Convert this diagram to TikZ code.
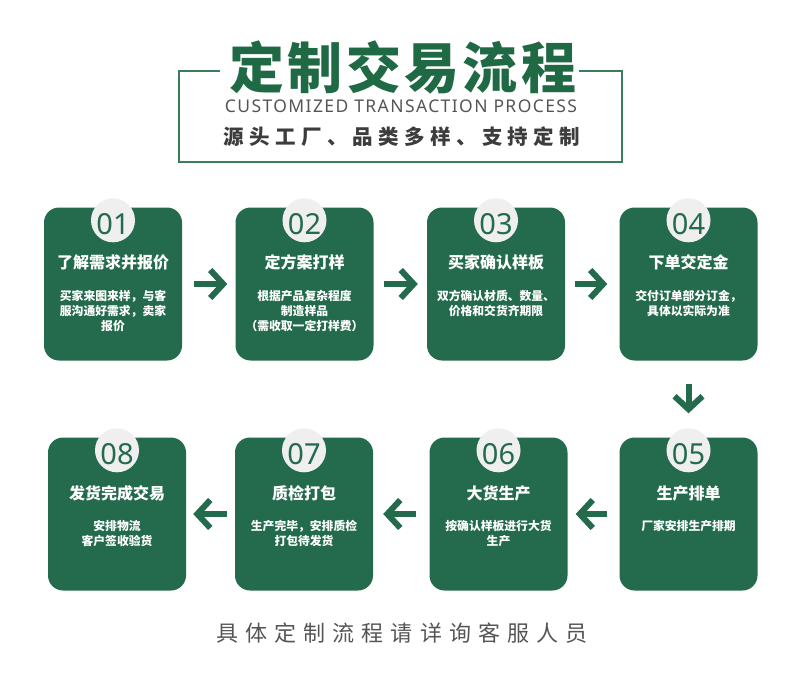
\documentclass[tikz,border=0pt]{standalone}
\usepackage{fontspec}
\usetikzlibrary{arrows.meta}
\newfontfamily\cjk{Noto Sans CJK SC}
\newfontfamily\latinf{Noto Sans}
\definecolor{boxgreen}{HTML}{246B4D}
\definecolor{titlegreen}{HTML}{1F6A45}
\definecolor{framegreen}{HTML}{3A7D5C}
\definecolor{circlegrey}{HTML}{EFEFEF}
\definecolor{textgrey}{HTML}{555555}
\definecolor{subgrey}{HTML}{3C3C3C}
\begin{document}
\begin{tikzpicture}[x=1pt,y=-1pt,
 stepbox/.style={fill=boxgreen, rounded corners=15pt, minimum width=138pt, minimum height=153pt, inner sep=0pt},
 numcircle/.style={circle, fill=circlegrey, minimum size=44pt, inner sep=0pt},
 numtext/.style={font=\latinf\fontsize{29}{29}\selectfont, text=boxgreen, inner sep=0pt},
 steptitle/.style={font=\cjk\bfseries\fontsize{16}{18}\selectfont, text=white, inner sep=0pt},
 stepdesc/.style={font=\cjk\bfseries\fontsize{11.8}{15}\selectfont, text=white, align=center, anchor=north, inner sep=0pt},
 flowarrow/.style={draw=boxgreen, line width=6pt, -{Straight Barb[length=13pt,width=28pt]}}
]
\useasboundingbox (0,0) rectangle (800,685);

% header
\draw[framegreen, line width=2pt] (220,71) -- (179,71) -- (179,162) -- (622,162) -- (622,71) -- (579,71);
\node[font=\cjk\bfseries\fontsize{55}{55}\selectfont\addfontfeatures{LetterSpace=6}, text=titlegreen] (title) at (403,67) {定制交易流程};
\node[font=\latinf\fontsize{17.5}{18}\selectfont\addfontfeatures{LetterSpace=8}, text=textgrey] (entitle) at (401,106) {CUSTOMIZED TRANSACTION PROCESS};
\node[font=\cjk\bfseries\fontsize{20.5}{21}\selectfont\addfontfeatures{LetterSpace=26}, text=subgrey] (slogan) at (402,137) {源头工厂、品类多样、支持定制};

% boxes row 1
\node[stepbox] (b1) at (113,284) {};
\node[stepbox] (b2) at (304.5,284) {};
\node[stepbox] (b3) at (496,284) {};
\node[stepbox] (b4) at (688.5,284) {};
% boxes row 2
\node[stepbox] (b8) at (117,514) {};
\node[stepbox] (b7) at (304,514) {};
\node[stepbox] (b6) at (498.5,514) {};
\node[stepbox] (b5) at (688.5,514) {};

% circles and numbers
\foreach \b/\n in {b1/01,b2/02,b3/03,b4/04,b5/05,b6/06,b7/07,b8/08}{
  \node[numcircle] (c\n) at ([yshift=-13pt]\b.north) {};
  \node[numtext] (t\n) at ([yshift=-17pt]\b.north) {\n};
}

% titles
\node[steptitle] (h1) at ([yshift=-55pt]b1.north) {了解需求并报价};
\node[steptitle] (h2) at ([yshift=-55pt]b2.north) {定方案打样};
\node[steptitle] (h3) at ([yshift=-55pt]b3.north) {买家确认样板};
\node[steptitle] (h4) at ([yshift=-55pt]b4.north) {下单交定金};
\node[steptitle] (h5) at ([yshift=-56pt]b5.north) {生产排单};
\node[steptitle] (h6) at ([yshift=-56pt]b6.north) {大货生产};
\node[steptitle] (h7) at ([yshift=-56pt]b7.north) {质检打包};
\node[steptitle] (h8) at ([yshift=-56pt]b8.north) {发货完成交易};

% descriptions
\node[stepdesc] (d1) at ([yshift=-83pt]b1.north) {买家来图来样，与客\\服沟通好需求，卖家\\报价};
\node[stepdesc] (d2) at ([yshift=-83pt]b2.north) {根据产品复杂程度\\制造样品\\（需收取一定打样费）};
\node[stepdesc] (d3) at ([yshift=-83pt]b3.north) {双方确认材质、数量、\\价格和交货齐期限};
\node[stepdesc] (d4) at ([yshift=-83pt]b4.north) {交付订单部分订金，\\具体以实际为准};
\node[stepdesc] (d5) at ([yshift=-83pt]b5.north) {厂家安排生产排期};
\node[stepdesc] (d6) at ([yshift=-83pt]b6.north) {按确认样板进行大货\\生产};
\node[stepdesc] (d7) at ([yshift=-83pt]b7.north) {生产完毕，安排质检\\打包待发货};
\node[stepdesc] (d8) at ([yshift=-83pt]b8.north) {安排物流\\客户签收验货};

% arrows
\draw[flowarrow, shorten <=12pt, shorten >=8pt] (b1.east) -- (b2.west);
\draw[flowarrow, shorten <=10pt, shorten >=9pt] (b2.east) -- (b3.west);
\draw[flowarrow, shorten <=10pt, shorten >=12pt] (b3.east) -- (b4.west);
\draw[flowarrow, shorten <=23pt, shorten >=24pt] (b4.south) -- (b5.north);
\draw[flowarrow, shorten <=12pt, shorten >=8pt] (b5.west) -- (b6.east);
\draw[flowarrow, shorten <=13pt, shorten >=10pt] (b6.west) -- (b7.east);
\draw[flowarrow, shorten <=8pt, shorten >=7pt] (b7.west) -- (b8.east);

% footer
\node[font=\cjk\fontsize{22}{22}\selectfont\addfontfeatures{LetterSpace=32}, text=textgrey] (footer) at (402,633) {具体定制流程请详询客服人员};
\end{tikzpicture}
\end{document}
